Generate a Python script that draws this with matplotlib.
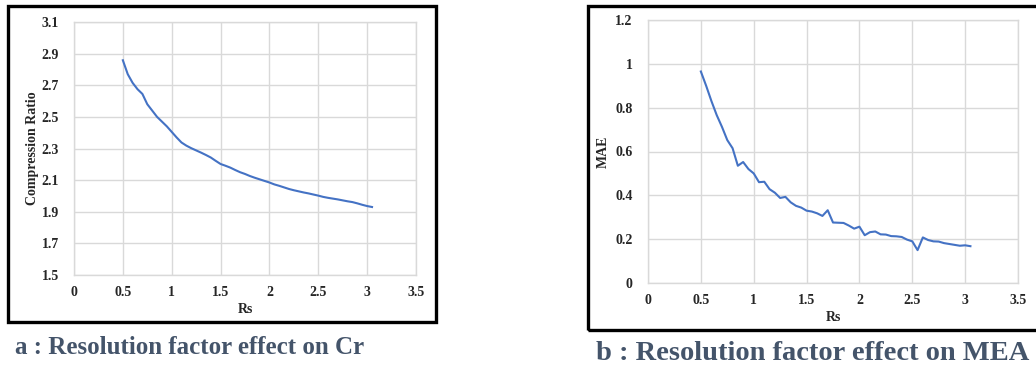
import matplotlib.pyplot as plt
from matplotlib.patches import Rectangle

# Rs values (step 0.05)
rs = [0.50, 0.55, 0.60, 0.65, 0.70, 0.75, 0.80, 0.85, 0.90, 0.95,
      1.00, 1.05, 1.10, 1.15, 1.20, 1.25, 1.30, 1.35, 1.40, 1.45,
      1.50, 1.55, 1.60, 1.65, 1.70, 1.75, 1.80, 1.85, 1.90, 1.95,
      2.00, 2.05, 2.10, 2.15, 2.20, 2.25, 2.30, 2.35, 2.40, 2.45,
      2.50, 2.55, 2.60, 2.65, 2.70, 2.75, 2.80, 2.85, 2.90, 2.95,
      3.00, 3.05]

cr = [2.858, 2.770, 2.715, 2.675, 2.645, 2.580, 2.540, 2.500, 2.470, 2.440,
      2.405, 2.370, 2.338, 2.318, 2.302, 2.288, 2.274, 2.259, 2.243, 2.222,
      2.202, 2.191, 2.179, 2.164, 2.150, 2.139, 2.126, 2.115, 2.105, 2.095,
      2.085, 2.073, 2.064, 2.054, 2.044, 2.036, 2.029, 2.022, 2.016, 2.009,
      2.002, 1.994, 1.988, 1.983, 1.978, 1.972, 1.966, 1.961, 1.953, 1.944,
      1.936, 1.930]

mae = [0.965, 0.900, 0.830, 0.766, 0.712, 0.652, 0.615, 0.535, 0.552, 0.520,
       0.500, 0.460, 0.462, 0.428, 0.412, 0.388, 0.393, 0.368, 0.352, 0.344,
       0.330, 0.326, 0.318, 0.306, 0.332, 0.276, 0.275, 0.274, 0.262, 0.248,
       0.257, 0.218, 0.232, 0.235, 0.222, 0.221, 0.214, 0.213, 0.210, 0.198,
       0.190, 0.150, 0.208, 0.196, 0.190, 0.189, 0.182, 0.178, 0.174, 0.170,
       0.172, 0.168]

x_ticks = [0, 0.5, 1, 1.5, 2, 2.5, 3, 3.5]
x_labels = ['0', '0.5', '1', '1.5', '2', '2.5', '3', '3.5']
cr_ticks = [1.5, 1.7, 1.9, 2.1, 2.3, 2.5, 2.7, 2.9, 3.1]
mae_ticks = [0, 0.2, 0.4, 0.6, 0.8, 1.0, 1.2]
mae_labels = ['0', '0.2', '0.4', '0.6', '0.8', '1', '1.2']

plt.rcParams['font.family'] = ['Liberation Serif', 'DejaVu Serif']

W, H = 1036, 370
fig = plt.figure(figsize=(W / 100, H / 100), dpi=100)

BLUE = '#4472c4'
GRID = '#d9d9d9'
CAPTION = '#44546a'


def px_axes(x0, x1, ytop, ybot):
    return fig.add_axes([x0 / W, 1 - ybot / H, (x1 - x0) / W, (ybot - ytop) / H])


def style(ax, yticks, ylabels, ylim, ylabel, ylabelpad):
    ax.set_xlim(0, 3.5)
    ax.set_ylim(*ylim)
    ax.set_xticks(x_ticks)
    ax.set_xticklabels(x_labels)
    ax.set_yticks(yticks)
    ax.set_yticklabels(ylabels)
    ax.grid(True, color=GRID, linewidth=1)
    ax.set_axisbelow(True)
    for s in ax.spines.values():
        s.set_color(GRID)
        s.set_linewidth(1)
    ax.tick_params(length=0, labelsize=10, colors='#262626')
    ax.tick_params(axis='y', pad=11)
    ax.tick_params(axis='x', pad=8)
    for lab in ax.get_xticklabels() + ax.get_yticklabels():
        lab.set_fontweight('bold')
    ax.set_xlabel('Rs', fontsize=10, fontweight='bold', color='#262626', labelpad=3)
    ax.set_ylabel(ylabel, fontsize=10, fontweight='bold', color='#262626',
                  labelpad=ylabelpad)


# chart a
ax1 = px_axes(74, 416, 22, 275)
ax1.plot(rs, cr, color=BLUE, linewidth=1.5)
style(ax1, cr_ticks, [f'{t:.1f}' for t in cr_ticks], (1.5, 3.1), 'Compression Ratio', 2)

# chart b
ax2 = px_axes(648, 1018, 20, 283)
ax2.plot(rs, mae, color=BLUE, linewidth=1.5)
style(ax2, mae_ticks, mae_labels, (0, 1.2), 'MAE', 4)

# black frames round each chart
fig.patches.append(Rectangle((8 / W, 1 - 322 / H), (436 - 8) / W, (322 - 6) / H,
                             transform=fig.transFigure, fill=False,
                             edgecolor='black', linewidth=2.4))
fig.patches.append(Rectangle((588 / W, 1 - 330 / H), (1045 - 588) / W, (330 - 6) / H,
                             transform=fig.transFigure, fill=False,
                             edgecolor='black', linewidth=2.4))

fig.text(190 / W, 1 - 348 / H, 'a : Resolution factor effect on Cr',
         ha='center', va='center', fontsize=18, fontweight='bold', color=CAPTION)
fig.text(813 / W, 1 - 354 / H, 'b : Resolution factor effect on MEA',
         ha='center', va='center', fontsize=20.5, fontweight='bold', color=CAPTION)

fig.savefig('out.png', dpi=100)
